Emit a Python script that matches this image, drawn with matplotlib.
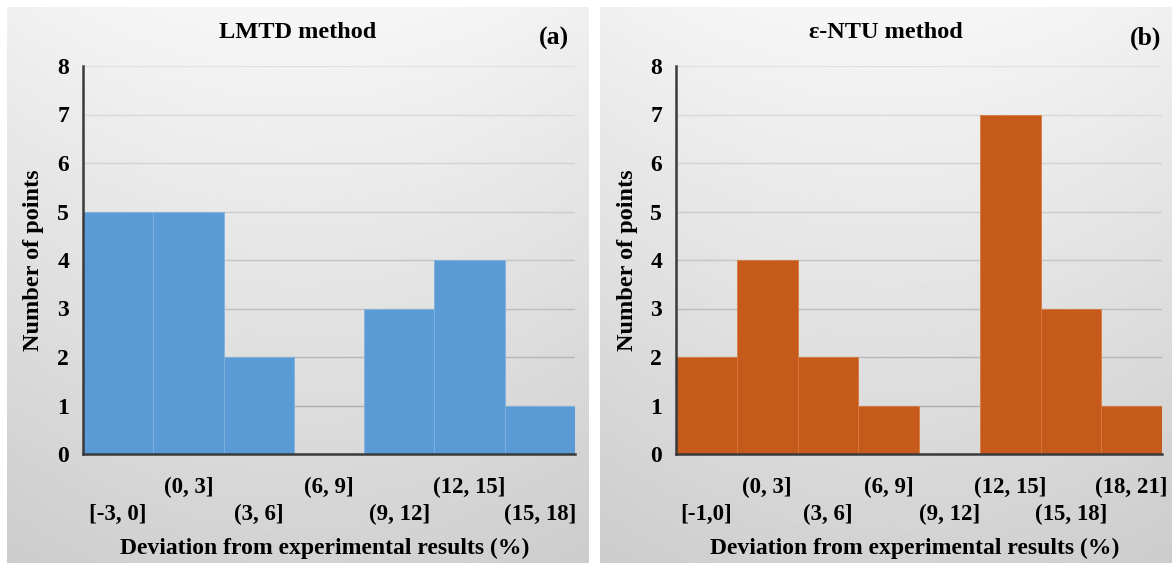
import numpy as np
import matplotlib.pyplot as plt

plt.rcParams['font.family'] = ['Liberation Serif', 'DejaVu Serif']
plt.rcParams['font.weight'] = 'bold'

LMTD_BINS = ['[-3, 0]', '(0, 3]', '(3, 6]', '(6, 9]', '(9, 12]', '(12, 15]', '(15, 18]']
LMTD_COUNTS = [5, 5, 2, 0, 3, 4, 1]

NTU_BINS = ['[-1,0]', '(0, 3]', '(3, 6]', '(6, 9]', '(9, 12]', '(12, 15]', '(15, 18]', '(18, 21]']
NTU_COUNTS = [2, 4, 2, 1, 0, 7, 3, 1]

W, H = 1172, 567
fig = plt.figure(figsize=(W / 100, H / 100), dpi=100)
fig.patch.set_facecolor('white')


def px_rect(x0, y0, x1, y1):
    # pixel box (top-left origin) -> figure fraction rect
    return [x0 / W, 1 - y1 / H, (x1 - x0) / W, (y1 - y0) / H]


def panel_bg(rect):
    bg = fig.add_axes(rect, zorder=0)
    yy = np.linspace(0, 1, 200)[:, None]
    xx = np.linspace(-1, 1, 200)[None, :]
    img = 0.965 - 0.14 * yy - 0.025 * xx ** 2
    bg.imshow(img, cmap='gray', vmin=0, vmax=1, aspect='auto',
              extent=[0, 1, 0, 1], origin='upper')
    bg.set_axis_off()


def draw_panel(panel, plot, labels, counts, color, edge, title, tag):
    panel_bg(px_rect(*panel))
    ax = fig.add_axes(px_rect(*plot), zorder=1)
    ax.set_facecolor('none')
    n = len(counts)
    x = np.arange(n)
    ax.bar(x, counts, width=1.0, align='edge', color=color,
           edgecolor=edge, linewidth=0.6, zorder=3)
    ax.set_xlim(0, n)
    ax.set_ylim(0, 8)
    ax.set_yticks(range(0, 9))
    ax.grid(axis='y', linewidth=1.0, zorder=0)
    # grid lines look fainter near the light top of the panel
    for i, gl in enumerate(ax.get_ygridlines()):
        g = 0.66 + 0.22 * i / 8
        gl.set_color((g, g, g))
    for s in ['top', 'right']:
        ax.spines[s].set_visible(False)
    for s in ['left', 'bottom']:
        ax.spines[s].set_color('#3a3a3a')
        ax.spines[s].set_linewidth(1.8)
        ax.spines[s].set_zorder(4)
    ax.tick_params(axis='y', length=0, pad=10, labelsize=17)
    # staggered category labels: even index on lower row, odd on upper row
    ax.set_xticks(x[::2] + 0.5)
    ax.set_xticklabels(labels[::2])
    ax.set_xticks(x[1::2] + 0.5, minor=True)
    ax.set_xticklabels(labels[1::2], minor=True)
    ax.tick_params(axis='x', which='major', length=0, pad=36, labelsize=16.5)
    ax.tick_params(axis='x', which='minor', length=0, pad=16.5, labelsize=16.5)
    cx = (panel[0] + panel[2]) / 2
    fig.text(35 / W + panel[0] / W - 8 / W, 1 - 260 / H, 'Number of points',
             rotation=90, ha='center', va='center', fontsize=17.5, fontweight='bold')
    fig.text((plot[0] + plot[2]) / 2 / W - 0.004, 1 - 548 / H,
             'Deviation from experimental results (%)', ha='center', va='center',
             fontsize=17, fontweight='bold')
    fig.text(cx / W, 1 - 33 / H, title, ha='center', va='center',
             fontsize=17.5, fontweight='bold')
    fig.text(tag[1] / W, 1 - 38 / H, tag[0], ha='right', va='center',
             fontsize=18.5, fontweight='bold')
    return ax


draw_panel((7, 7, 589, 563), (83, 66, 575, 454), LMTD_BINS, LMTD_COUNTS,
           '#5b9bd5', '#7fb2e0', 'LMTD method', ('(a)', 569))
draw_panel((600, 7, 1172, 563), (676, 66, 1162, 454), NTU_BINS, NTU_COUNTS,
           '#c55a1b', '#d97a3e', 'ε-NTU method', ('(b)', 1161))

fig.savefig('out.png', dpi=100)
